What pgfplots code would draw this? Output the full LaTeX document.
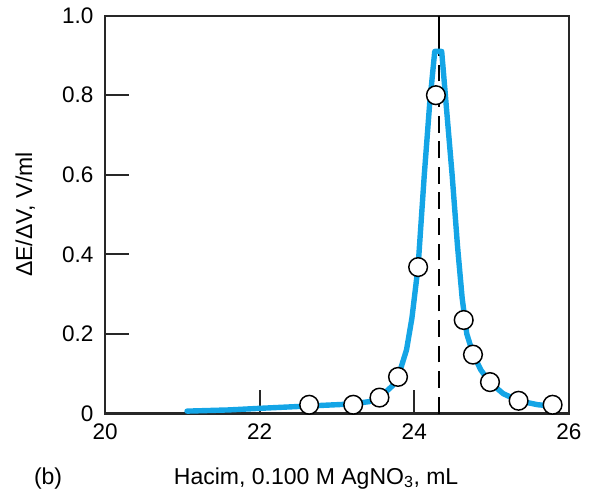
\documentclass[border=0pt]{standalone}
\usepackage{fontspec}
\setmainfont{Liberation Sans}
\usepackage{pgfplots}
\pgfplotsset{compat=1.18}
\definecolor{curveblue}{RGB}{20,165,230}
\definecolor{axgray}{RGB}{40,40,40}
\begin{document}
\fontsize{23.5}{28}\selectfont
\begin{tikzpicture}
\begin{axis}[
  name=ax,
  at={(0,0)}, anchor=south west,
  scale only axis,
  width=472bp, height=405bp,
  xmin=20, xmax=26, ymin=0, ymax=1,
  xtick={20,22,24,26},
  ytick={0,0.2,0.4,0.6,0.8,1.0},
  yticklabels={0,0.2,0.4,0.6,0.8,1.0},
  xtick pos=left, ytick pos=left,
  tick align=inside,
  major tick length=24bp,
  tick style={line width=2.2bp, color=axgray},
  axis line style={line width=2.2bp, color=axgray},
  /pgf/number format/assume math mode=true,
  ticklabel style={font=\fontsize{23}{27}\selectfont},
  yticklabel style={xshift=-4bp},
  xticklabel style={yshift=-2bp},
  clip=false,
]
% dashed equivalence line
\addplot[black, line width=2bp] coordinates {(24.32,0.93) (24.32,1.0)};
\addplot[black, line width=2bp, dash pattern=on 17bp off 9bp] coordinates {(24.32,0) (24.32,0.93)};
% curve
\addplot[curveblue, line width=5.5bp, line join=round, line cap=round] coordinates {
(21.06,0.006) (21.6,0.009) (22.0,0.013) (22.65,0.019) (23.2,0.024) (23.42,0.03)
(23.58,0.045) (23.72,0.07) (23.82,0.11) (23.9,0.16) (23.97,0.24) (24.05,0.37)
(24.13,0.6) (24.2,0.78) (24.265,0.91) (24.355,0.91) (24.42,0.76) (24.49,0.6)
(24.56,0.42) (24.62,0.29) (24.68,0.2) (24.76,0.15) (24.86,0.11) (24.97,0.08)
(25.15,0.05) (25.35,0.032) (25.6,0.022) (25.85,0.018)
};
% data points
\addplot[only marks, mark=*, mark size=9.5bp, mark options={fill=white, draw=black, line width=1.5bp}] coordinates {
(22.64,0.022) (23.21,0.022) (23.55,0.04) (23.79,0.092) (24.05,0.368)
(24.28,0.80) (24.64,0.235) (24.76,0.148) (24.98,0.079) (25.35,0.032) (25.79,0.022)
};
\node[anchor=base] at (axis description cs:0.455,-0.178) {Hacim, 0.100 M AgNO\textsubscript{3}, mL};
\node[anchor=base] at (axis description cs:-0.123,-0.178) {(b)};
\node[rotate=90, anchor=center] at (axis description cs:-0.172,0.5) {ΔE/ΔV, V/ml};
\end{axis}
\path (ax.south west) ++(-107bp,-89bp) coordinate (bbA);
\path (ax.north east) ++(10bp,5bp) coordinate (bbB);
\path (bbA) rectangle (bbB);
\end{tikzpicture}
\end{document}
